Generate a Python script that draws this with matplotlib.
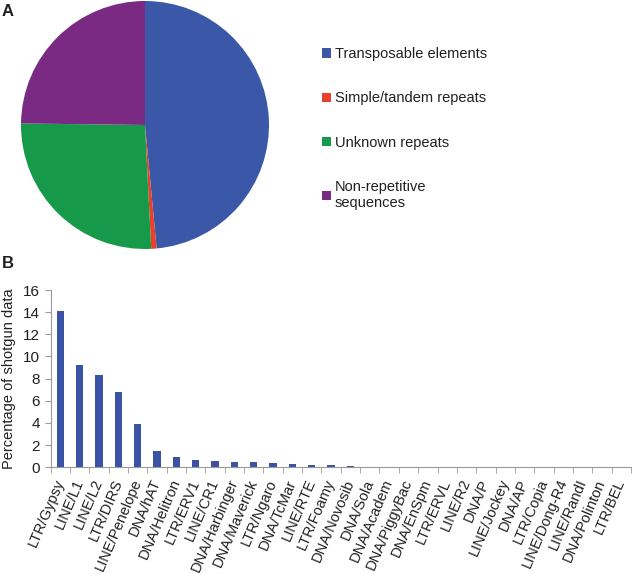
import matplotlib
matplotlib.use("Agg")
import matplotlib.pyplot as plt
from matplotlib.patches import Patch
import numpy as np

plt.rcParams['font.family'] = ['Liberation Sans', 'DejaVu Sans']

# Panel A data
pie_labels = ["Transposable elements", "Simple/tandem repeats", "Unknown repeats",
              "Non-repetitive\nsequences"]
pie_values = [48.5, 0.7, 26.0, 24.8]
pie_colors = ["#3B58A8", "#E8402A", "#17994A", "#7B2A84"]

# Panel B data
categories = ["LTR/Gypsy", "LINE/L1", "LINE/L2", "LTR/DIRS", "LINE/Penelope", "DNA/hAT",
              "DNA/Helitron", "LTR/ERV1", "LINE/CR1", "DNA/Harbinger", "DNA/Maverick",
              "LTR/Ngaro", "DNA/TcMar", "LINE/RTE", "LTR/Foamy", "DNA/Novosib", "DNA/Sola",
              "DNA/Academ", "DNA/PiggyBac", "DNA/EnSpm", "LTR/ERVL", "LINE/R2", "DNA/P",
              "LINE/Jockey", "DNA/AP", "LTR/Copia", "LINE/Dong-R4", "LINE/RandI",
              "DNA/Polinton", "LTR/BEL"]
percentages = [14.15, 9.2, 8.35, 6.8, 3.95, 1.5, 0.92, 0.62, 0.55, 0.5, 0.48, 0.35, 0.3,
               0.25, 0.18, 0.1, 0.06, 0.05, 0.04, 0.04, 0.04, 0.03, 0.03, 0.03, 0.03,
               0.03, 0.02, 0.02, 0.02, 0.02]
yticks = [0, 2, 4, 6, 8, 10, 12, 14, 16]

W, H = 632, 574
fig = plt.figure(figsize=(W / 100, H / 100), dpi=100)
text_color = "#231F20"

def box(x0, y0, x1, y1):
    return [x0 / W, 1 - y1 / H, (x1 - x0) / W, (y1 - y0) / H]

# Pie
axp = fig.add_axes(box(21, 1, 269, 249))
axp.pie(pie_values, colors=pie_colors, startangle=90, counterclock=False,
        wedgeprops=dict(linewidth=0))
axp.set_xlim(-1, 1)
axp.set_ylim(-1, 1)
axp.set_aspect('equal')

handles = [Patch(facecolor=c, edgecolor='none') for c in pie_colors]
fig.legend(handles, pie_labels, loc='upper left', bbox_to_anchor=(309 / W, 1 - 34 / H),
           frameon=False, fontsize=10.5, handlelength=0.6, handleheight=0.6,
           handletextpad=0.25, labelspacing=2.08, labelcolor=text_color)

# Bars
axb = fig.add_axes(box(50.6, 290, 631, 467.3))
x = np.arange(len(categories))
axb.bar(x, percentages, width=0.38, color="#3A53A4")
axb.set_xlim(-0.5, len(categories) - 0.5)
axb.set_ylim(0, 16)
axb.set_yticks(yticks)
axb.set_xticks(x)
axb.set_xticklabels(categories, rotation=67, ha='right', va='center',
                    rotation_mode='anchor', fontsize=10.5, color=text_color)
axb.set_xticks(np.arange(len(categories) + 1) - 0.5, minor=True)
axb.tick_params(axis='x', which='major', length=0, pad=9)
axb.tick_params(axis='x', which='minor', length=4, color="#999999", direction='out')
axb.tick_params(axis='y', length=4, color="#999999", labelsize=11, labelcolor=text_color)
for s in ['top', 'right']:
    axb.spines[s].set_visible(False)
for s in ['left', 'bottom']:
    axb.spines[s].set_color("#999999")
    axb.spines[s].set_linewidth(0.8)
axb.set_ylabel("Percentage of shotgun data", fontsize=10.5, color=text_color, labelpad=5)

fig.text(2 / W, 1 - 12 / H, "A", fontsize=12, fontweight='bold', va='center', color=text_color)
fig.text(2 / W, 1 - 264 / H, "B", fontsize=12, fontweight='bold', va='center', color=text_color)

fig.savefig("out.png", dpi=100)
